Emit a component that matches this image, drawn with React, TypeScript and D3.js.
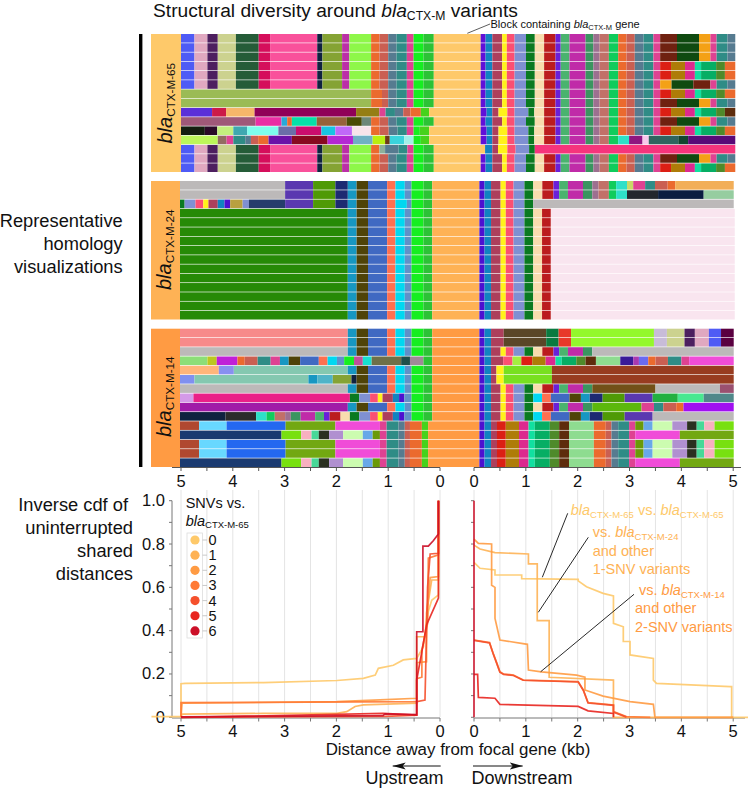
import React from "react";
import * as d3 from "d3";

type Seg = [string, number];
type Pt = [number, number];

const palette: Record<string, string> = {
  g65: "#fec96a", g24: "#feb255", g14: "#ff9b43",
  blu: "#4f5bf5", pnk: "#e0a8c0", prp: "#4d1f5f", khk: "#ccd28f", dgn: "#255c38", crs: "#d50e5b", hot: "#f9519b",
  nav: "#0f2240", olv: "#85a334", mgt: "#bb2fa7", lim: "#8ef749", org: "#eb6a2e", cor: "#ca5f52", slt: "#567b90",
  tea: "#2f8c86", pk2: "#de4292", gre: "#16ee20", gr2: "#2cc236", sag: "#9bbb55", vlt: "#5a2fd8", crm: "#cc1a48",
  tan: "#f6b66a", plm: "#900058", dol: "#957e14", lgn: "#46d21c", mvr: "#9f5878", pk4: "#ea2ea4", sky: "#28a8d8",
  mnt: "#06e0a8", brn: "#96623a", dko: "#4a4c05", gtl: "#6d8878", blk: "#151e10", dpl: "#2a0a28", lme: "#c4ee7e",
  tq1: "#3fa8b0", cyl: "#7dfeec", sbl: "#6b6ea8", mgd: "#cb0d6e", skb: "#18c4e2", lvl: "#c068f8", lpi: "#f8e4ea",
  ylg: "#bcf65a", bgr: "#946a62", pur: "#6c12a8", dkr: "#880a20", vio: "#b428d4", stl: "#70b0c4", ygn: "#b8f010",
  bdk: "#6e3a16", cya: "#3ad4dc", lcy: "#a2f0e8", ltt: "#8eb09a",
  vi1: "#6010d8", b2c: "#1183c0", ros: "#ad3f5c", yel: "#fff21a", prd: "#fb4f72", per: "#7f90d2", dgr: "#0a7a21",
  crm2: "#f8dcae", red: "#bb1c1e", vi2: "#6a20d8", grn: "#4ab36e", mag: "#c02ba8", gr3: "#3a9560", mau: "#9d7090",
  rs2: "#c27068", gr4: "#10cc5c", mar: "#6f2110", dkg: "#0f4a10", amb: "#f4a116", rd2: "#dc1f14", och: "#ae7c08",
  pk3: "#dc2a8e", min: "#11e0a0", grb: "#06ae64", ol2: "#4f8a2a", bw2: "#5e2c0c", mn2: "#2ee0c8", pr2: "#8f1680",
  lp2: "#f8c8ec", dtl: "#2f645f", dg2: "#12452f", pr3: "#5a0a78", hp2: "#f6347c",
  gry: "#bcb9b9", pvi: "#5a38b0", gol: "#4f9a06", nv2: "#1d2a72", b3c: "#1797c2", dol2: "#4f4308", bl2: "#4069c2",
  cr2: "#fe7050", cyn: "#00d8f0", st2: "#6090c8", tgr: "#268a06", gld: "#b8a040", nv3: "#263d6c", vi3: "#4c10d0",
  ygr: "#c8d868", tn2: "#f2ae58", dk1: "#23272d", nv4: "#0a1d40", lg2: "#96cda0", lpk: "#f9e5ef",
  slm: "#f78a8a", lgr: "#8cde78", ycr: "#bcc820", vc2: "#c020d8", pk5: "#c0509a", mn3: "#18e0d0", ol4: "#6e7048",
  dt2: "#20504c", mv2: "#a08898", tan2: "#ffb57a", pr4: "#8890f0", lte: "#84c8b0", tl3: "#50b4c8", pr5: "#8090f0",
  lav: "#d49ae8", pk6: "#ea2088", pps: "#a01ca8", dk2: "#2b2b2b", bbr: "#b04830", lbl: "#68d8ff", bst: "#2468f0",
  og2: "#72a812", lmg: "#f04cd8", nv5: "#1a3a70", ylm: "#78e010", pkl: "#f8b0c0", mg2: "#48d898", dk3: "#2a3020",
  lv2: "#b090d0", lgb: "#ccfcb0", lb2: "#68a8e8", og3: "#6a9a08",
  bn2: "#5a4628", g5a: "#0a7a40", rd3: "#e8382a", li2: "#94f82c", lv3: "#c8bcd8", dkm: "#5a0040", lm3: "#a4ee40",
  lgn2: "#8edc90", dvi: "#3a1a98", mg3: "#a83ab0", pe2: "#6a6af0", ygs: "#78e020", brr: "#983c20", bol: "#725018",
  mv3: "#9a5070", g2b: "#22b040", mn4: "#48e890", tgy: "#50888a", gr5: "#5cb80c", vbr: "#a010f0",
};

// ---- homology blocks: [block id, block end on the track in kb] ----
const core65: Seg[] = [["blu",-4.74],["pnk",-4.49],["prp",-4.29],["khk",-3.94],["dgn",-3.5],["crs",-3.28],["hot",-2.37],["nav",-2.27],["olv",-1.89],["mgt",-1.75],["lim",-1.33]];
const near65: Seg[] = [["org",-1.17],["cor",-1],["slt",-.84],["tea",-.64],["pk2",-.51],["gre",-.32],["gr2",-.12]];
const near65b: Seg[] = [["org",-1.12],["cor",-1],["slt",-.84],["tea",-.64],["pk2",-.51],["gre",-.32],["gr2",-.12]];
const midDown65: Seg[] = [["crm2",2.01],["red",2.23],["vi2",2.33],["grn",2.5],["mag",2.81],["gr3",2.96],["mau",3.08],["rs2",3.26],["gr4",3.44]];
const farDown65: Seg[] = [["org",3.6],["cor",3.76],["slt",3.93],["tea",4.12],["pk2",4.25]];
const genes65: Seg[] = [["vi1",.88],["b2c",1.01],["ros",1.2],["yel",1.29],["prd",1.44],["per",1.66],["dgr",1.83]];
const genes65b: Seg[] = [["vi1",.9],["b2c",1.01],["ros",1.13],["yel",1.3],["prd",1.44],["per",1.705],["dgr",1.82]];
const tailA: Seg[] = [["mar",4.575],["dkg",5],["amb",5.22],["pk2",5.34],["tea",5.55],["slt",5.7]];
const tailB: Seg[] = [["rd2",4.46],["och",4.73],["pk3",4.92],["min",5.04],["grb",5.33],["ol2",5.5],["org",5.7]];
const tailC: Seg[] = [["amb",4.47],["dkg",4.89],["mar",5.22],["pk2",5.34],["tea",5.55],["slt",5.7]];
const tailB2: Seg[] = [["rd2",4.46],["och",4.73],["pk3",4.92],["min",5.04],["grb",5.33],["ol2",5.5],["bw2",5.7]];
const gene65: Seg[] = [["g65",.785]];
const down65A: Seg[] = [...gene65,...genes65,...midDown65,...farDown65,...tailA];
const down65B: Seg[] = [...gene65,...genes65,...midDown65,...farDown65,...tailB];
const std65L: Seg[] = [...core65,...near65];

const rows65: Seg[][] = [
  [...std65L,...down65A],
  [...std65L,...down65A],
  [...std65L,...down65A],
  [...std65L,...down65B],
  [...std65L,...down65B],
  [...std65L,...gene65,...genes65,...midDown65,...farDown65,...tailC],
  [["sag",-1.33],...near65b,...down65B],
  [["sag",-1.33],...near65b,...down65A],
  [["vlt",-4.4],["crm",-4.13],["tan",-3.58],["plm",-1.62],["dol",-1.17],["pk2",-1.05],["tea",-.87],["slt",-.71],["cor",-.57],["org",-.37],["lgn",-.21],...gene65,...genes65b,...midDown65,...farDown65,...tailB2],
  [["mvr",-3.56],["pk4",-3.06],["sky",-2.95],["org",-2.86],["mnt",-2.38],["brn",-1.8],["dko",-1.51],["gtl",-1.33],...near65,...down65A],
  [["blk",-4.54],["dpl",-4.3],["lme",-3.99],["tq1",-3.72],["cyl",-3.12],["sbl",-2.78],["mgd",-2.29],["skb",-2.02],["lvl",-1.7],["lpi",-1.33],["org",-1.17],["cor",-.99],["slt",-.82],["tea",-.64],["pk2",-.51],["gre",-.39],["lgn",-.21],...gene65,...genes65b,...midDown65,...farDown65,...tailB],
  [["ylg",-4.29],["bgr",-4.12],["pk2",-3.99],["tea",-3.76],["slt",-3.65],["cor",-3.51],["org",-3.31],["pur",-2.86],["dkr",-2.17],["vio",-1.68],["stl",-1.3],["ygn",-1.06],["bdk",-.97],["cya",-.69],["lcy",-.51],["gre",-.37],["lgn",-.21],...gene65,...genes65b,...midDown65,["mn2",3.65],["pr2",3.91],["lp2",4.03],["dtl",4.6],["dg2",4.79],["pr3",5.7]],
  [...core65,["org",-1.17],["ltt",-1.06],["slt",-.8],["tea",-.63],["pk2",-.51],["gre",-.32],["gr2",-.12],["g65",.87],["b2c",1.01],["ros",1.12],["yel",1.3],["prd",1.46],["per",1.72],["dgr",1.83],["hp2",5.7]],
  [...std65L,...down65A],
  [...std65L,...down65B],
];

const near24: Seg[] = [["b3c",-1.61],["dol2",-1.39],["bl2",-1.02],["cr2",-.86],["cyn",-.68],["st2",-.55],["gre",-.32],["gr2",-.15]];
const near24b: Seg[] = [["b3c",-1.61],["dol2",-1.39],["bl2",-1.02],["cr2",-.86],["cyn",-.64],["st2",-.55],["gre",-.32],["gr2",-.15]];
const mid24: Seg[] = [["pvi",-2.45],["gol",-2.02],["nv2",-1.78]];
const genes24: Seg[] = [["vi3",.86],["b2c",.985],["ros",1.17],["yel",1.27],["prd",1.42],["per",1.63],["dgr",1.8]];
const mid24R: Seg[] = [["crm2",1.975],["red",2.19],["vi2",2.3],["grn",2.47],["mag",2.76],["gr3",2.94]];
const gene24: Seg[] = [["g24",.76]];
const green24: Seg[] = [["tgr",-1.78],...near24,...gene24,...genes24,["crm2",1.97],["red",2.14],["lpk",5.69]];

const rows24: Seg[][] = [
  [["gry",-2.99],...mid24,...near24,...gene24,...genes24,...mid24R,["mau",3.06],["rs2",3.26],["gr4",3.4],["mn2",3.61],["ygr",3.73],["pk2",3.96],["tea",4.15],["cor",4.395],["org",4.54],["tn2",5.67]],
  [["gry",-2.99],...mid24,...near24,...gene24,...genes24,...mid24R,["mau",3.06],["rs2",3.26],["gr4",3.4],["mn2",3.61],["dk1",4.21],["nv4",5.09],["lg2",5.67]],
  [["dgr",-4.93],["per",-4.72],["prd",-4.57],["yel",-4.47],["ros",-4.29],["b2c",-4.16],["vi3",-4.05],["gld",-3.81],["per",-3.69],["nv3",-2.99],...mid24,...near24b,...gene24,...genes24,["gry",5.67]],
  green24, green24, green24, green24, green24, green24, green24, green24, green24, green24, green24, green24,
];

const near14: Seg[] = [["b3c",-1.61],["dol2",-1.39],["bl2",-1.02],["cr2",-.86],["cyn",-.68],["st2",-.55],["gre",-.32],["gr2",-.15]];
const gene14: Seg[] = [["g14",.76]];
const start14: Seg[] = [...gene14,["vi3",.86],["b2c",.985]];
const core14R: Seg[] = [["ros",1.17],["yel",1.27],["prd",1.42],["per",1.63],["dgr",1.8],["crm2",1.975],["red",2.19],["vi2",2.3],["grn",2.47],["mag",2.76],["gr3",2.94]];
const cyan14R: Seg[] = [["ros",1.17],["yel",1.27],["prd",1.42],["per",1.63],["dgr",1.8],["cyn",1.97],["cr2",2.14],["bl2",2.5],["dol2",2.72],["b3c",2.89],["nv2",3.14],["gol",3.565],["pvi",4.105]];
const genes14L: Seg[] = [["dgr",-1.56],["per",-1.35],["prd",-1.2],["yel",-1.11],["ros",-.91],["b2c",-.79],["vi3",-.69],["st2",-.55],["gre",-.32],["gr2",-.15]];
const near14c: Seg[] = [["pk2",-1.03],["tea",-.8],["slt",-.68],["cor",-.58],["org",-.35],["lgn",-.23]];
const blue14L: Seg[] = [["bbr",-4.65],["lbl",-4.12],["bst",-2.98],["og2",-2.02],["lmg",-1.16],...near14c];
const navy14L: Seg[] = [["nv5",-3.06],["ylm",-2.68],["pkl",-2.48],["mg2",-2.34],["dk3",-2.14],["lv2",-1.87],["lgb",-1.49],["lb2",-1.3],["og3",-1.16],...near14c];
const shared14R: Seg[] = [...start14,["ros",1.1],["rd2",1.27],["och",1.525],["pk3",1.71],["min",1.83],["grb",2.12],["ol2",2.3],["bw2",2.49],["lgn2",2.97],["org",3.2],["cor",3.31],["slt",3.44],["tea",3.65],["pk2",3.77]];
const row11R: Seg[] = [...shared14R,["og3",3.93],["lb2",4.105],["lgb",4.485],["lv2",4.77],["dk3",4.955],["mg2",5.1],["pkl",5.3],["ylm",5.67]];
const row12R: Seg[] = [...shared14R,["lmg",4.63],["og2",5.67]];

const rows14: Seg[][] = [
  [["slm",-1.78],...near14,...start14,["ros",1.23],["bn2",2.05],["g5a",2.29],["rd3",2.53],["li2",4.13],["lv3",4.38],["khk",4.72],["prp",4.92],["pnk",5.19],["blu",5.425],["dkm",5.67]],
  [["slm",-1.78],...near14,...start14,["ros",1.23],["bn2",2.05],["g5a",2.29],["rd3",2.53],["li2",4.13],["lv3",4.38],["khk",4.72],["prp",4.92],["pnk",5.19],["blu",5.425],["dkm",5.67]],
  [["gry",-1.78],...near14,...start14,...core14R,["gry",5.67]],
  [["lgr",-4.49],["ycr",-4.31],["vc2",-3.91],["org",-3.77],["cor",-3.52],["tea",-3.27],["pk2",-3.09],["b3c",-2.92],["dol2",-2.7],["bl2",-2.34],["cr2",-2.17],["cyn",-1.99],["st2",-1.85],["gre",-1.66],["pk5",-1.49],["mn3",-1.32],["ol4",-.75],["dt2",-.58],["mv2",-.32],["gr2",-.15],...start14,["ros",1.22],["prd",1.4],["lm3",1.57],["rd2",1.78],["och",2.04],["pk3",2.23],["min",2.35],["grb",2.63],["ol2",2.81],["bw2",3.01],["lgn2",3.48],["dvi",3.73],["mg3",3.84],["pe2",4.02],["org",4.16],["cor",4.4],["tea",4.66],["pk2",4.81],["lmg",5.67]],
  [["tan2",-4.27],["pr4",-3.98],["lte",-1.78],...near14,...start14,["ros",1.09],["yel",1.23],["ygs",2.16],["brr",5.67]],
  [["pr5",-4.74],["lte",-2.54],["b3c",-2.37],["tl3",-2.07],["olv",-1.71],["nav",-1.61],["dol2",-1.39],["bl2",-1.02],["cr2",-.86],["cyn",-.68],["st2",-.55],["gre",-.32],["gr2",-.15],...start14,["ros",1.09],["yel",1.23],["ygs",2.16],["brr",5.67]],
  [["gry",-1.78],...near14,...start14,...core14R,["bol",4.16],["gry",5.405],["mv3",5.67]],
  [["lav",-4.76],["pk6",-1.74],...genes14L,...start14,...cyan14R,["g2b",4.59],["mn4",5.09],["tgy",5.67]],
  [["pps",-1.78],...near14,...start14,...core14R,["gr5",3.89],["pk2",4.13],["tea",4.31],["cor",4.56],["org",4.7],["vbr",5.67]],
  [["nav",-4.14],["dk2",-3.55],["mn2",-3.35],["gr4",-3.19],["rs2",-2.99],["mau",-2.88],["gr3",-2.69],["mag",-2.41],["grn",-2.24],["vi2",-2.13],["red",-1.92],["crm2",-1.74],...genes14L,...start14,...cyan14R,["gry",5.67]],
  [...blue14L,...row11R],
  [...navy14L,...row12R],
  [...blue14L,...row11R],
  [...blue14L,...row11R],
  [...navy14L,...row12R],
];

// ---- inverse cdf curves: [distance kb, fraction] ----
const snvLabels = ["0", "1", "2", "3", "4", "5", "6"];
const snvColors = ["#fec96a", "#feb255", "#ff9b43", "#ff7a35", "#f5502c", "#e8251f", "#cc1028"];
const upCurve0: Pt[] = [[.03,1],[.03,.565],[.16,.54],[.225,.49],[.32,.326],[.45,.272],[.71,.265],[.9,.24],[1.19,.226],[1.25,.195],[1.48,.18],[1.99,.17],[3.41,.16],[4.92,.157],[5,.155],[5,.003],[5.57,.003]];
const upCurve1: Pt[] = [[.03,1],[.03,.634],[.16,.634],[.24,.51],[.29,.372],[.45,.372],[.45,.065],[1.48,.057],[1.64,.05],[1.8,.026],[1.99,.018],[3.41,.018],[4.98,.015],[5,0]];
const upCurve2: Pt[] = [[.03,1],[.03,.65],[.19,.645],[.225,.55],[.26,.48],[.26,.257],[.45,.252],[.45,.088],[1.16,.08],[1.99,.072],[4.98,.065],[5,0]];
const upCurve3: Pt[] = [[.03,1],[.03,.75],[.225,.735],[.24,.434],[.35,.31],[.35,.185],[.45,.178],[.45,.072],[5,.068],[5,0]];
const upCurve4: Pt[] = [[.03,1],[.03,.757],[.19,.754],[.24,.6],[.29,.08],[.45,.072],[.45,.01],[1.06,.004],[5,0]];
const upCurve5: Pt[] = [[.03,1],[.03,.55],[.26,.426],[.35,.303],[.45,.172],[.45,.01],[1.1,.018],[4,.004],[5,0]];
const upCurve6: Pt[] = [[.03,1],[.03,.846],[.13,.815],[.225,.79],[.33,.79],[.33,.395],[.45,.395],[.45,.012],[1.06,.016],[1.1,.008],[5,.002]];
const downCurve0: Pt[] = [[0,.715],[.116,.688],[.405,.68],[.405,.657],[.92,.657],[.92,.64],[2.01,.637],[2.01,.63],[2.17,.603],[2.49,.572],[2.69,.56],[2.69,.434],[2.88,.418],[2.88,.35],[3.01,.35],[3.01,.288],[3.46,.272],[3.46,.172],[3.52,.157],[4.94,.142],[4.97,.142],[4.97,0],[5.29,0]];
const downCurve1: Pt[] = [[0,.795],[.116,.777],[.405,.76],[1.05,.754],[1.05,.708],[1.22,.708],[1.22,.446],[1.45,.446],[1.45,.185],[2.69,.172],[2.69,0],[5,0]];
const downCurve2: Pt[] = [[0,.823],[.084,.803],[.34,.8],[.34,.61],[.405,.6],[.405,.457],[.5,.357],[1.03,.337],[1.05,.218],[1.3,.21],[1.98,.195],[2.14,.185],[2.14,.126],[2.49,.098],[3.01,.072],[3.46,.06],[3.49,0],[5,0]];
const downCurve3: Pt[] = [[0,.357],[.3,.345],[.37,.295],[.44,.25],[.5,.21],[.57,.2],[.76,.195],[.95,.172],[2.01,.165],[2.11,.126],[2.2,.068],[2.69,.057],[2.69,.026],[2.94,.003],[3.4,0]];
const downCurve4: Pt[] = [[0,.355],[.3,.343],[.37,.293],[.44,.248],[.5,.208],[.57,.198],[.76,.193],[.95,.171],[2.01,.163],[2.11,.124],[2.2,.066],[2.69,.055],[2.69,.024],[2.94,.001]];
const downCurve5: Pt[] = [[0,.198],[.07,.198],[.084,.092],[.405,.088],[.5,.06],[2.01,.05],[2.2,.03],[2.69,.018],[2.69,0]];
const downCurve6: Pt[] = [[0,1],[0,0]];
const upCurves = [upCurve0, upCurve1, upCurve2, upCurve3, upCurve4, upCurve5, upCurve6];
const downCurves = [downCurve0, downCurve1, downCurve2, downCurve3, downCurve4, downCurve5, downCurve6];

const kbTicks = d3.range(0, 5.01, 0.5);
const kbLabels = [0, 1, 2, 3, 4, 5];
const fracTicks = d3.range(0, 1.01, 0.1);
const fracLabels = [0, 0.2, 0.4, 0.6, 0.8, 1];

const FONT = "'Liberation Sans', Helvetica, Arial, sans-serif";
const GENE_END = 0.66;
const trackX = d3.scaleLinear().domain([-5, 5 + GENE_END]).range([181, 733.2]);
const upX = d3.scaleLinear().domain([5, 0]).range([181, 440]);
const downX = d3.scaleLinear().domain([0, 5]).range([474, 733.2]);
const fracY = d3.scaleLinear().domain([0, 1]).range([717.3, 500.7]);

const panels = [
  { rows: rows65, top: 34, bottom: 172, start: 181, label: "CTX-M-65", fill: "#fec96a", tx: 172, ty: 143.5 },
  { rows: rows24, top: 181, bottom: 319.5, start: 180, label: "CTX-M-24", fill: "#feb255", tx: 170.5, ty: 290 },
  { rows: rows14, top: 328.7, bottom: 467, start: 180, label: "CTX-M-14", fill: "#ff9b43", tx: 170.5, ty: 437 },
];

function Bla({ sub, size, subSize, ...rest }: any) {
  return (
    <text {...rest} fontSize={size}>
      <tspan fontStyle="italic">bla</tspan>
      <tspan fontSize={subSize} dy={size * 0.17}>{sub}</tspan>
    </text>
  );
}

function Panel({ p }: { p: (typeof panels)[number] }) {
  const y = d3.scaleBand<number>().domain(d3.range(p.rows.length)).range([p.top, p.bottom]).paddingInner(0.07);
  return (
    <g>
      <rect x={151} y={p.top} width={p.start - 151} height={p.bottom - p.top} fill={p.fill} />
      <g transform={`translate(${p.tx},${p.ty}) rotate(-90)`}>
        <Bla sub={p.label} size={20} subSize={11.7} x={0} y={0} fill="#111" />
      </g>
      {p.rows.map((row, i) => {
        let prev = trackX.invert(p.start);
        return row.map(([id, end], j) => {
          const x0 = trackX(prev);
          const x1 = trackX(end);
          prev = end;
          return <rect key={`${i}-${j}`} x={x0} y={y(i)} width={x1 - x0} height={y.bandwidth()} fill={palette[id]} />;
        });
      })}
    </g>
  );
}

function KbAxis({ scale, y, x0, x1, color, labelY }: any) {
  return (
    <g>
      <line x1={x0} x2={x1} y1={y} y2={y} stroke={color} strokeWidth={1} />
      {kbTicks.map((t) => (
        <line key={t} x1={scale(t)} x2={scale(t)} y1={y} y2={y + 3.5} stroke={color} strokeWidth={1} />
      ))}
      {kbLabels.map((t) => (
        <text key={t} x={scale(t)} y={labelY} textAnchor="middle" fontSize={16.5} fill="#111">{t}</text>
      ))}
    </g>
  );
}

function Curves({ scale, data, width }: any) {
  const line = d3.line<Pt>().x((d) => scale(d[0])).y((d) => fracY(d[1]));
  return (
    <g>
      {data.map((c: Pt[], i: number) => (
        <path key={i} d={line(c) as string} fill="none" stroke={snvColors[i]} strokeWidth={width} strokeOpacity={0.9} />
      ))}
    </g>
  );
}

export default function App() {
  const gridTop = 490;
  return (
    <svg width={748} height={789} viewBox="0 0 748 789" style={{ position: "absolute", left: 0, top: 0, background: "#fff" }} fontFamily={FONT}>
      <text x={153} y={17} fontSize={19.2} fill="#111">
        Structural diversity around <tspan fontStyle="italic">bla</tspan>
        <tspan fontSize={12.2} dy={3}>CTX-M</tspan>
        <tspan dy={-3}> variants</tspan>
      </text>
      <line x1={490} y1={24} x2={467.3} y2={33.3} stroke="#333" strokeWidth={0.8} />
      <text x={490.5} y={28} fontSize={11} fill="#111">
        Block containing <tspan fontStyle="italic">bla</tspan>
        <tspan fontSize={7.5} dy={2}>CTX-M</tspan>
        <tspan dy={-2}> gene</tspan>
      </text>

      <rect x={139} y={34} width={3.4} height={433} fill="#000" />
      {["Representative", "homology", "visualizations"].map((s, i) => (
        <text key={s} x={122.7} y={226.7 + i * 23.2} textAnchor="end" fontSize={18.3} fill="#111">{s}</text>
      ))}

      {panels.map((p) => <Panel key={p.label} p={p} />)}

      <KbAxis scale={upX} y={467.5} x0={172} x1={440} color="#555" labelY={487} />
      <KbAxis scale={downX} y={467.5} x0={474} x1={741} color="#555" labelY={487} />

      {["Inverse cdf of ", "uninterrupted", "shared", "distances"].map((s, i) => (
        <text key={s} x={i === 0 ? 128 : 133} y={510.7 + i * 23.2} textAnchor="end" fontSize={18.3} fill="#111">{s}</text>
      ))}

      {kbTicks.map((t) => (
        <g key={t}>
          <line x1={upX(t)} x2={upX(t)} y1={gridTop} y2={717} stroke="#e4e4e4" strokeWidth={1} />
          <line x1={downX(t)} x2={downX(t)} y1={gridTop} y2={717} stroke="#e4e4e4" strokeWidth={1} />
        </g>
      ))}

      <line x1={172} x2={172} y1={fracY(1)} y2={fracY(0)} stroke="#777" strokeWidth={1} />
      {fracTicks.map((t) => (
        <g key={t}>
          <line x1={169} x2={172} y1={fracY(t)} y2={fracY(t)} stroke="#777" strokeWidth={1} />
          <line x1={471} x2={474} y1={fracY(t)} y2={fracY(t)} stroke="#777" strokeWidth={1} />
        </g>
      ))}
      {fracLabels.map((t) => (
        <text key={t} x={165} y={fracY(t) + 5.5} textAnchor="end" fontSize={16.5} fill="#111">{t === 0 ? "0" : t.toFixed(1)}</text>
      ))}

      <KbAxis scale={upX} y={718} x0={172} x1={440} color="#777" labelY={737} />
      <KbAxis scale={downX} y={718} x0={474} x1={745} color="#777" labelY={737} />

      <Curves scale={upX} data={upCurves} width={1.7} />
      <Curves scale={downX} data={downCurves} width={1.7} />

      <text x={185.7} y={508} fontSize={14.5} fill="#111">SNVs vs.</text>
      <Bla sub="CTX-M-65" size={14.5} subSize={9.5} x={185.7} y={526} fill="#111" />
      <rect x={187} y={533} width={15.5} height={105} fill="#fff" stroke="#ddd" strokeWidth={0.8} />
      {snvLabels.map((s, i) => {
        const cy = 540 + i * 15.15;
        return (
          <g key={s}>
            <line x1={202.5} x2={207} y1={cy} y2={cy} stroke="#bbb" strokeWidth={0.8} />
            <circle cx={195} cy={cy} r={4.6} fill={snvColors[i]} />
            <text x={208.5} y={cy + 5} fontSize={14.5} fill="#111">{s}</text>
          </g>
        );
      })}

      <line x1={567.7} y1={513.3} x2={542.3} y2={577.3} stroke="#111" strokeWidth={0.9} />
      <line x1={588.3} y1={537.3} x2={538.3} y2={612.3} stroke="#111" strokeWidth={0.9} />
      <line x1={634} y1={594.3} x2={540.7} y2={671.7} stroke="#111" strokeWidth={0.9} />

      <text x={570.7} y={515} fontSize={14.5} fill={snvColors[0]}>
        <tspan fontStyle="italic">bla</tspan><tspan fontSize={9.5} dy={2.5}>CTX-M-65</tspan>
        <tspan dy={-2.5}> vs. </tspan><tspan fontStyle="italic">bla</tspan><tspan fontSize={9.5} dy={2.5}>CTX-M-65</tspan>
      </text>
      <text x={592.7} y={537} fontSize={14.5} fill={snvColors[1]}>
        vs. <tspan fontStyle="italic">bla</tspan><tspan fontSize={9.5} dy={2.5}>CTX-M-24</tspan>
      </text>
      <text x={592.7} y={556} fontSize={14.5} fill={snvColors[1]}>and other</text>
      <text x={592.7} y={574.3} fontSize={14.5} fill={snvColors[1]}>1-SNV variants</text>
      <text x={639} y={595} fontSize={14.5} fill={snvColors[2]}>
        vs. <tspan fontStyle="italic">bla</tspan><tspan fontSize={9.5} dy={2.5}>CTX-M-14</tspan>
      </text>
      <text x={635} y={613} fontSize={14.5} fill={snvColors[2]}>and other</text>
      <text x={635} y={632} fontSize={14.5} fill={snvColors[2]}>2-SNV variants</text>

      <text x={458} y={755} textAnchor="middle" fontSize={16.9} fill="#111">Distance away from focal gene (kb)</text>
      <defs>
        <marker id="arr" markerWidth={14} markerHeight={8} refX={13} refY={4} orient="auto" markerUnits="userSpaceOnUse">
          <path d="M0,0.5 L13,4 L0,7.5 L3,4 Z" fill="#111" />
        </marker>
      </defs>
      <line x1={440.7} y1={766} x2={392.7} y2={766} stroke="#111" strokeWidth={1} markerEnd="url(#arr)" />
      <line x1={473} y1={766} x2={522.7} y2={766} stroke="#111" strokeWidth={1} markerEnd="url(#arr)" />
      <text x={404.5} y={784} textAnchor="middle" fontSize={18} fill="#111">Upstream</text>
      <text x={471.5} y={784} fontSize={18} fill="#111">Downstream</text>
    </svg>
  );
}
